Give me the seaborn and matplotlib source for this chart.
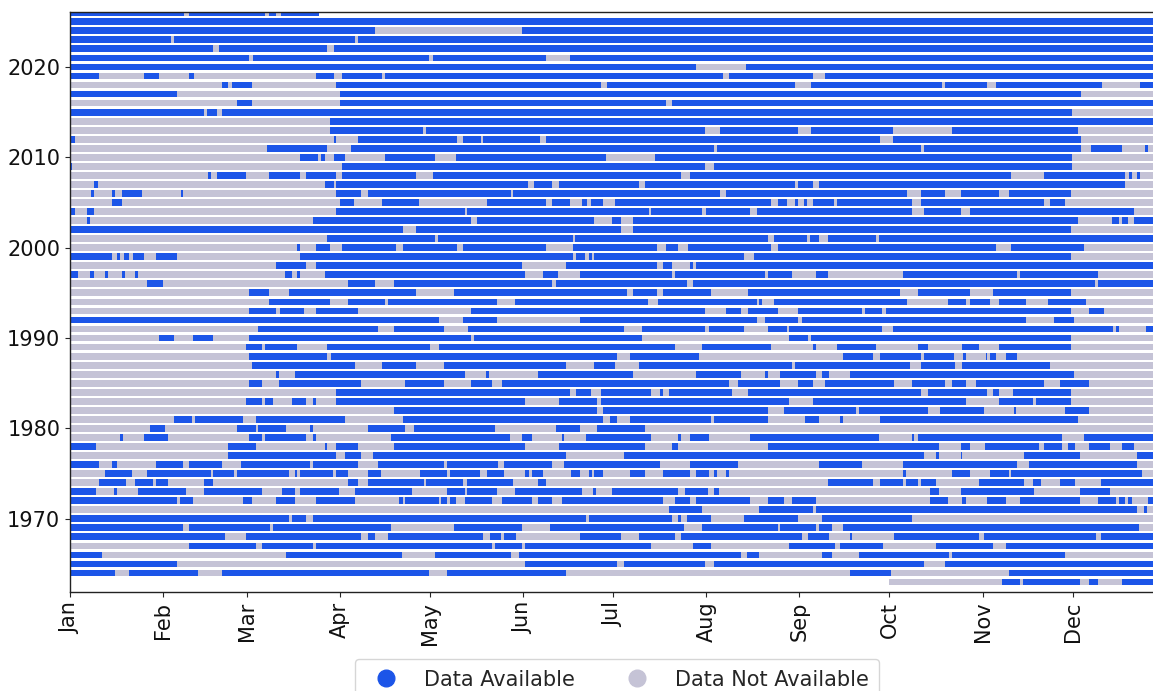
import matplotlib
matplotlib.use("Agg")
import matplotlib.pyplot as plt
import seaborn as sns
import pandas as pd
from matplotlib.lines import Line2D

# ---------------- data (day-of-year intervals with data available) ----------------
month_labels = ["Jan", "Feb", "Mar", "Apr", "May", "Jun",
                "Jul", "Aug", "Sep", "Oct", "Nov", "Dec"]
month_starts = [0, 31, 59, 90, 120, 151, 181, 212, 243, 273, 304, 334]
year_ticks = [1970, 1980, 1990, 2000, 2010, 2020]

first_year, last_year = 1963, 2026
record_start_day = 273   # record begins 1 Oct 1963
record_end_day = 83      # record ends late March 2026
year_length = 366

a2026 = [(0, 38), (39.7, 65), (66.2, 68.7), (70.4, 83)]
a2025 = [(0, 366)]
a2024 = [(0, 101.5), (150.5, 366)]
a2023 = [(0, 33.7), (34.6, 94.8), (95.9, 366)]
a2022 = [(0, 47.8), (49.7, 85.7), (87.8, 366)]
a2021 = [(0, 59.7), (60.8, 119.6), (120.8, 158.6), (166.5, 366)]
a2020 = [(0, 208.4), (225.3, 366)]
a2019 = [(0, 9.7), (24.6, 29.7), (39.7, 41.3), (81.8, 87.8), (90.6, 103.8), (104.8, 217.6),
         (219.5, 247.4), (251.6, 366)]
a2018 = [(50.6, 52.5), (53.9, 60.6), (88.7, 176.8), (178.9, 241.6), (246.7, 290.6),
         (291.5, 305.5), (308.5, 343.8), (356.6, 366)]
a2017 = [(0, 35.5), (89.9, 336.8)]
a2016 = [(55.7, 60.6), (89.9, 198.6), (200.5, 366)]
a2015 = [(0, 44.8), (45.7, 49), (50.6, 333.8)]
a2014 = [(86.6, 366)]
a2013 = [(86.6, 117.5), (118.5, 211.6), (216.5, 242.5), (246.7, 274.3), (293.8, 335.7)]
a2012 = [(0, 1.6), (87.8, 88.7), (95.9, 128.9), (130.8, 136.8), (137.7, 156.6),
         (158.6, 269.7), (274.3, 336.8)]
a2011 = [(65.5, 85.7), (93.6, 214.6), (215.6, 283.6), (284.5, 336.8), (340.3, 350.5),
         (358.2, 359.3)]
a2010 = [(76.6, 82.7), (83.6, 84.8), (87.8, 91.5), (104.8, 121.7), (128.7, 178.6),
         (194.9, 333.8)]
a2009 = [(0, 0.8), (90.6, 211.6), (214.4, 333.8)]
a2008 = [(46, 46.9), (49, 58.5), (66.4, 76.6), (78.7, 88.7), (90.6, 115.4), (120.8, 203.5),
         (206.5, 313.4), (324.5, 351.5), (352.8, 353.8), (355.4, 356.6)]
a2007 = [(7.9, 9.3), (84.8, 87.8), (88.7, 152.6), (154.7, 160.7), (162.8, 189.5),
         (191.6, 241.6), (242.5, 247.4), (249.5, 351.5)]
a2006 = [(7, 7.9), (13.9, 14.9), (17.4, 24.1), (36.9, 37.8), (88.7, 96.9), (99.4, 146.8),
         (147.7, 216.5), (218.6, 278.7), (283.6, 291.5), (296.9, 309.6), (312.7, 333.6)]
a2005 = [(13.9, 17.4), (89.9, 94.5), (103.8, 116.4), (138.9, 158.6), (160.7, 166.5),
         (170.5, 172.4), (173.5, 177.7), (181.4, 233.4), (235.8, 238.8), (241.6, 242.5),
         (244.6, 245.5), (247.4, 254.4), (255.5, 280.4), (283.6, 324.5), (326.6, 331.5)]
a2004 = [(0, 1.6), (5.8, 7.9), (88.7, 131.5), (132.4, 192.8), (193.7, 210.7), (211.8, 226.5),
         (228.8, 280.4), (284.5, 296.9), (299.7, 354.5)]
a2003 = [(5.8, 6.7), (80.8, 133.6), (135.6, 174.7), (180.7, 183.5), (187.4, 335.7),
         (347.3, 349.4), (350.5, 352.6), (354.5, 366)]
a2002 = [(0, 110.8), (115.4, 183.5), (187.4, 333.6)]
a2001 = [(85.7, 121.7), (122.6, 167.5), (168.4, 232.7), (234.6, 245.5), (246.5, 249.5),
         (252.5, 268.5), (269.5, 366)]
a2000 = [(75.5, 76.6), (81.8, 86.6), (90.6, 108.5), (110.8, 128.9), (130.8, 158.6),
         (167.5, 195.6), (198.6, 202.5), (205.8, 233.4), (235.8, 308.5), (313.4, 337.7)]
a1999 = [(0, 13.9), (15.8, 16.7), (17.9, 19.7), (20.9, 24.6), (28.8, 35.5), (76.6, 167.5),
         (168.6, 171.6), (173, 174), (174.7, 224.4), (227.9, 333.6)]
a1998 = [(68.5, 78.7), (81.8, 150.5), (165.4, 195.6), (197.7, 200.5), (206.5, 207.4),
         (208.6, 366)]
a1997 = [(0, 2.5), (6.7, 7.9), (11.6, 12.8), (17.4, 18.3), (21.6, 22.7), (71.5, 73.9),
         (75.5, 76.6), (84.8, 151.7), (157.5, 162.6), (169.8, 200.5), (201.6, 231.4),
         (232.5, 240.4), (248.5, 252.5), (277.6, 315.4), (316.4, 342.6)]
a1996 = [(25.5, 30.9), (92.7, 101.7), (107.8, 160.7), (161.9, 205.6), (207.4, 341.5),
         (342.6, 366)]
a1995 = [(59.7, 66.4), (72.9, 115.4), (127.8, 185.6), (187.7, 195.6), (197.7, 213.7),
         (225.8, 276.4), (282.5, 299.7), (307.5, 333.6)]
a1994 = [(66.4, 86.6), (92.7, 104.8), (105.9, 142.4), (148.4, 192.6), (195.8, 228.8),
         (229.7, 230.7), (234.6, 278.7), (292.5, 298.5), (299.7, 306.4), (309.6, 318.5),
         (325.7, 338.4)]
a1993 = [(59.7, 68.5), (69.9, 77.8), (82, 95.9), (133.6, 211.6), (218.6, 223.5),
         (225.8, 235.8), (242.5, 263.9), (264.8, 270.6), (271.8, 333.6), (339.4, 344.5)]
a1992 = [(0, 122.9), (130.8, 142.4), (169.8, 228.8), (231.4, 242.5), (243.7, 318.5),
         (327.8, 334.5)]
a1991 = [(62.7, 102.7), (107.8, 124.5), (132.6, 184.7), (190.5, 211.6), (212.8, 224.4),
         (232.5, 238.8), (239.7, 270.6), (274.3, 347.5), (348.4, 349.6), (358.4, 366)]
a1990 = [(29.7, 34.6), (40.9, 47.8), (59.7, 133.6), (134.7, 190.5), (239.5, 245.8),
         (246.7, 333.6)]
a1989 = [(58.5, 63.9), (64.8, 75.7), (85.7, 119.9), (122.9, 201.4), (210.7, 233.4),
         (247.4, 248.5), (255.5, 268.5), (282.5, 285.7), (297.3, 302.7), (309.6, 333.6)]
a1988 = [(59.7, 85.7), (86.9, 182.3), (186.7, 209.5), (257.6, 267.4), (269.7, 283.6),
         (284.5, 294.5), (297.6, 298.5), (305, 305.5), (306.4, 308.5), (311.7, 315.4)]
a1987 = [(60.6, 94.8), (103.8, 115.4), (124.5, 165.4), (174.7, 181.4), (189.5, 240.4),
         (241.6, 279.7), (283.6, 294.8), (297.3, 326.6)]
a1986 = [(68.5, 69.7), (74.8, 131.5), (138.7, 139.6), (155.9, 187.7), (208.6, 223.5),
         (231.4, 232.5), (236.7, 248.5), (250.6, 252.7), (259.7, 334.5)]
a1985 = [(59.7, 63.9), (69.7, 96.9), (111.7, 124.5), (133.6, 140.5), (143.8, 219.7),
         (222.5, 236.7), (242.5, 247.4), (251.6, 274.6), (280.4, 291.5), (293.8, 298.5),
         (301.7, 324.5), (329.8, 339.4)]
a1984 = [(88.7, 166.5), (168.6, 173.5), (176.8, 193.7), (196.7, 197.7), (199.5, 220.7),
         (225.8, 283.6), (285.7, 305.5), (307.5, 309.6), (314.3, 333.6)]
a1983 = [(58.5, 63.9), (64.8, 67.6), (73.9, 78.7), (80.8, 81.8), (88.7, 151.7),
         (162.8, 175.6), (176.8, 239.5), (247.4, 298.5), (309.6, 320.8), (321.7, 333.6)]
a1982 = [(107.8, 175.6), (177.7, 232.5), (237.9, 261.8), (262.7, 285.7), (289.7, 304.5),
         (314.5, 315.2), (331.5, 339.4)]
a1981 = [(34.6, 40.6), (41.6, 57.6), (61.8, 91.5), (110.8, 177.7), (179.8, 182.3),
         (186.7, 213.7), (214.6, 232.5), (244.8, 249.5), (256.4, 257.4), (269.7, 335.7)]
a1980 = [(26.7, 31.8), (55.7, 61.8), (62.7, 71.8), (79.9, 80.8), (99.4, 111.7),
         (114.7, 141.5), (161.9, 169.8), (175.6, 191.6)]
a1979 = [(16.7, 17.6), (24.6, 32.7), (59.7, 63.9), (64.8, 78.7), (80.8, 81.8),
         (106.8, 146.6), (150.5, 153.8), (163.8, 164.7), (171.9, 193.7), (202.5, 203.5),
         (206.5, 212.8), (226.7, 269.5), (280.4, 281.3), (282.5, 330.5), (337.7, 366)]
a1978 = [(0, 8.6), (52.7, 61.8), (84.8, 85.7), (88.7, 95.9), (107.8, 151.7), (162.8, 191.6),
         (200.5, 202.5), (232.5, 289.4), (296.9, 299.7), (304.8, 322.7), (324.5, 330.5),
         (332.4, 334.7), (339.4, 346.6), (350.5, 354.5)]
a1977 = [(52.7, 88.7), (91.7, 96.9), (100.8, 165.4), (184.7, 284.5), (288.5, 289.4),
         (296.9, 297.3), (317.8, 336.6), (355.4, 366)]
a1976 = [(0, 9.7), (13.9, 15.8), (28.8, 37.8), (39.7, 50.6), (56.9, 79.9), (80.8, 95.9),
         (102.7, 124.5), (125.7, 142.6), (144.5, 160.7), (164.5, 196.7), (206.5, 222.5),
         (249.5, 263.9), (277.6, 315.4), (319.6, 355.4)]
a1975 = [(11.6, 20.7), (25.5, 46.9), (47.8, 54.8), (55.7, 72.9), (74.8, 75.7), (76.6, 87.6),
         (88.7, 92.7), (99.4, 103.6), (116.6, 125.7), (126.6, 136.6), (138.9, 144.5),
         (151.7, 152.8), (153.8, 157.5), (166.8, 169.8), (172.8, 174), (174.7, 177.7),
         (186.7, 191.6), (197.7, 206.5), (208.6, 212.8), (214.6, 215.6), (218.6, 219.5),
         (277.6, 278.5), (293.8, 299.7), (306.4, 312.7), (313.4, 357.3)]
a1974 = [(9.7, 18.6), (21.6, 27.6), (28.6, 32.7), (44.8, 47.8), (92.7, 95.9), (99.4, 117.8),
         (118.5, 130.8), (132.4, 147.7), (155.9, 158.6), (252.5, 267.4), (269.7, 277.6),
         (278.5, 282.5), (283.6, 288.5), (302.7, 317.8), (320.8, 323.6), (329.8, 334.7),
         (343.5, 366)]
a1973 = [(0, 8.6), (14.6, 15.5), (22.7, 38.8), (44.8, 63.9), (70.6, 74.8), (76.6, 89.7),
         (94.8, 113.8), (125.7, 131.5), (132.4, 142.4), (148.4, 170.7), (174.4, 175.4),
         (180.7, 202.5), (204.9, 212.5), (214.4, 216.3), (286.6, 289.4), (296.9, 321.3),
         (336.6, 346.6)]
a1972 = [(0, 35.8), (36.7, 40.9), (57.6, 60.6), (68.7, 74.8), (81.8, 94.8), (109.6, 110.8),
         (111.7, 122.9), (123.6, 125.7), (126.6, 128.7), (131.5, 140.5), (143.8, 153.8),
         (155.9, 160.7), (163.8, 197.7), (201.6, 206.5), (208.6, 226.7), (232.5, 237.9),
         (240.4, 248.5), (286.6, 292.5), (297.3, 298.5), (305.5, 311.7), (316.6, 336.6),
         (342.4, 348.4), (349.6, 351.5), (352.6, 353.8), (359.3, 366)]
a1971 = [(199.5, 210.7), (229.7, 247.4), (248.5, 355.4), (357.7, 358.7)]
a1970 = [(0, 72.9), (73.9, 78.7), (80.8, 171.9), (172.8, 200.5), (202.5, 203.5),
         (205.6, 213.7), (224.6, 242.5), (250.6, 280.4)]
a1969 = [(0, 37.8), (39.7, 66.7), (67.6, 106.8), (127.8, 150.5), (159.8, 204.6),
         (210.7, 235.8), (236.7, 248.5), (249.5, 253.7), (257.6, 356.3)]
a1968 = [(0, 51.8), (58.8, 96.9), (99.4, 101.5), (105.9, 137.7), (139.8, 143.5),
         (144.7, 148.7), (169.8, 183.5), (189.5, 201.6), (203.7, 243.7), (245.8, 252.7),
         (259.7, 260.6), (274.6, 302.7), (304.5, 341.7), (343.5, 366)]
a1967 = [(39.7, 61.8), (63.9, 80.8), (81.8, 140.5), (141.5, 150.5), (151.7, 193.7),
         (207.4, 213.7), (239.5, 254.8), (256.4, 270.9), (288.5, 307.5), (311.7, 366)]
a1966 = [(0, 10.7), (71.8, 110.6), (121.7, 146.8), (149.6, 223.5), (225.5, 229.5),
         (250.6, 253.7), (262.7, 292.7), (293.8, 331.5)]
a1965 = [(0, 35.5), (151.7, 182.3), (184.7, 211.6), (214.4, 284.5), (291.5, 366)]
a1964 = [(0, 14.9), (19.7, 42.5), (50.6, 119.6), (125.7, 165.4), (259.7, 273.4), (312.7, 366)]
a1963 = [(310.6, 316.4), (317.5, 336.6), (339.4, 342.6), (350.5, 366)]

years = list(range(first_year, last_year + 1))
available = [globals()[f"a{y}"] for y in years]

# ---------------- build segment table ----------------
rows = []
for y, segs in zip(years, available):
    start = record_start_day if y == first_year else 0
    end = record_end_day if y == last_year else year_length
    rows.append(dict(year=y, start=start, end=end, status="Data Not Available"))
    for s, e in segs:
        rows.append(dict(year=y, start=s, end=e, status="Data Available"))
df = pd.DataFrame(rows)

BLUE = "#1c55e8"
GRAY = "#c5c3d6"
palette = {"Data Available": BLUE, "Data Not Available": GRAY}

# ---------------- plot ----------------
sns.set_style("ticks")
plt.rcParams["font.family"] = ["DejaVu Sans"]

fig = plt.figure(figsize=(11.53, 6.91), dpi=100)
ax = fig.add_axes([70 / 1153, 1 - 592 / 691, 1 - 70 / 1153, (592 - 12) / 691])

for status in ["Data Not Available", "Data Available"]:
    sub = df[df.status == status]
    ax.barh(sub.year, sub.end - sub.start, left=sub.start, height=0.75,
            color=palette[status], linewidth=0)

ax.set_xlim(0, 360.8)
ax.set_ylim(1961.9, 2026.08)
ax.set_xticks(month_starts)
ax.set_xticklabels(month_labels, rotation=90, fontsize=15, color="#111111")
ax.set_yticks(year_ticks)
ax.set_yticklabels([str(t) for t in year_ticks], fontsize=15, color="#111111")
ax.spines["right"].set_visible(False)
for sp in ["left", "top", "bottom"]:
    ax.spines[sp].set_color("#222222")
    ax.spines[sp].set_linewidth(1.0)

handles = [Line2D([0], [0], marker="o", linestyle="none", markersize=12,
                  markerfacecolor=palette[k], markeredgecolor=palette[k], label=k)
           for k in ["Data Available", "Data Not Available"]]
fig.legend(handles=handles, loc="upper center", bbox_to_anchor=(0.535, 0.061),
           ncol=2, fontsize=15, frameon=True, handletextpad=0.8, columnspacing=2.0,
           borderpad=0.5)

fig.savefig("out.png", dpi=100)
